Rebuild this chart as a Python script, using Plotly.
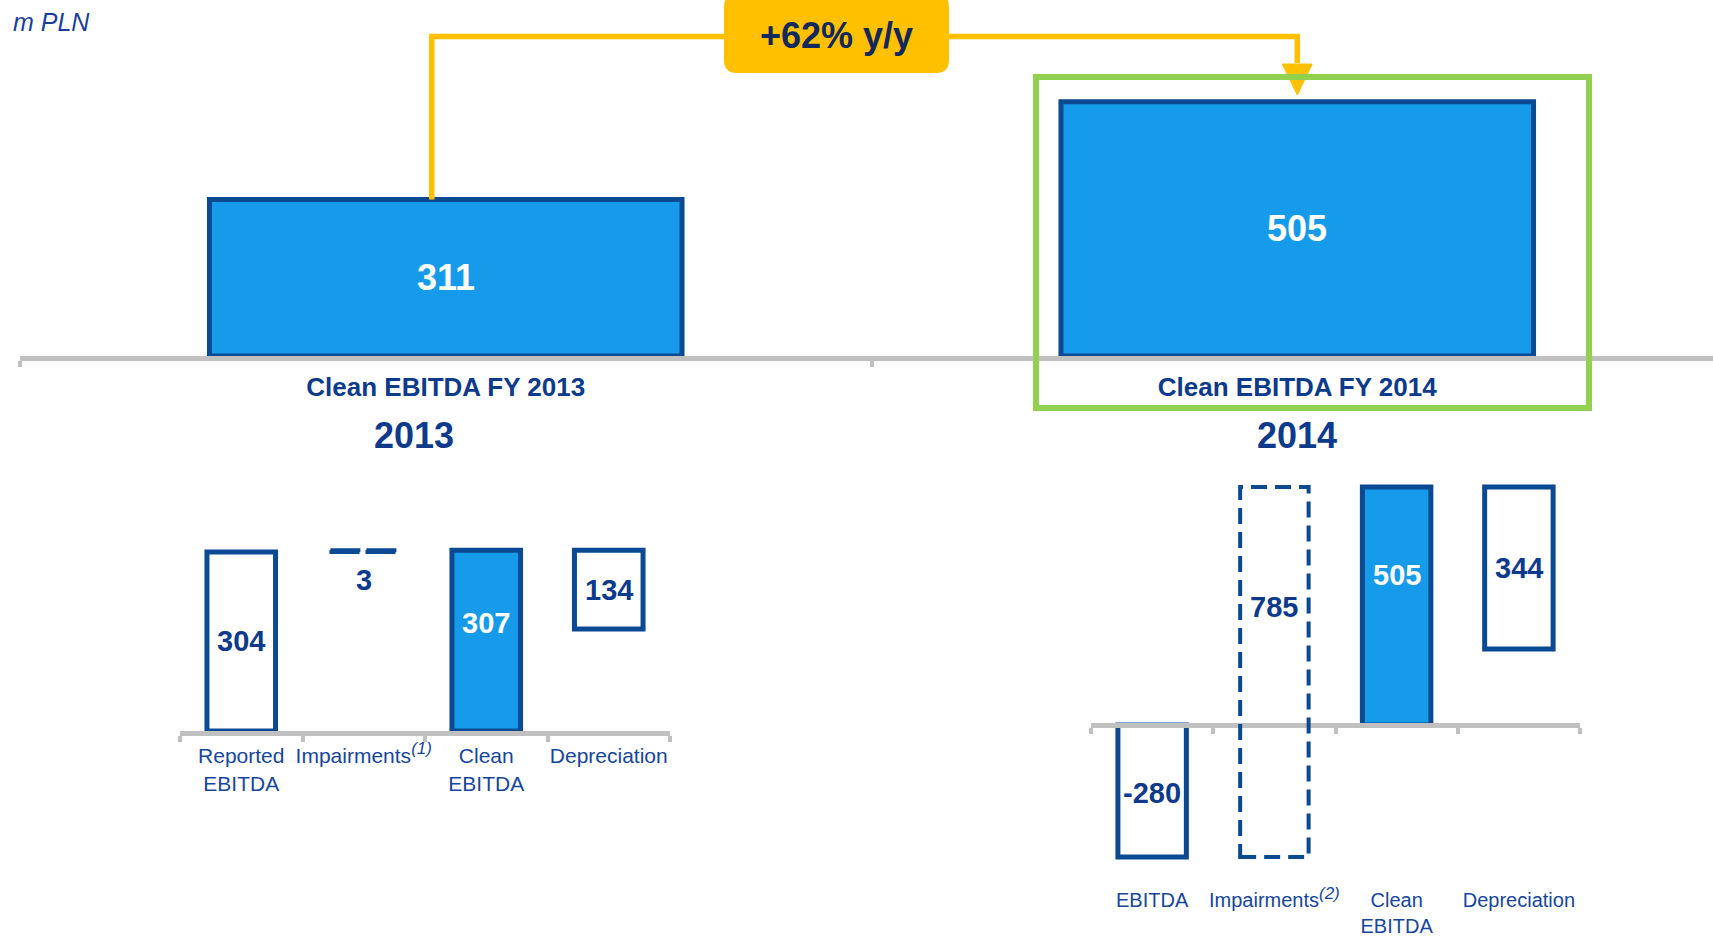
import plotly.graph_objects as go

# ---------------- data (m PLN) ----------------
unit_label = "m PLN"
yoy_text = "+62% y/y"
years = ["2013", "2014"]

top_categories = ["Clean EBITDA FY 2013", "Clean EBITDA FY 2014"]
top_values = [311, 505]

bridge_2013_labels = ["Reported<br>EBITDA",
                      "Impairments<sup><span style='font-size:17px'><i>(1)</i></span></sup>",
                      "Clean<br>EBITDA", "Depreciation"]
bridge_2013_values = [304, 3, 307, 134]

bridge_2014_labels = ["EBITDA",
                      "Impairments<sup><span style='font-size:17px'><i>(2)</i></span></sup>",
                      "Clean<br>EBITDA", "Depreciation"]
bridge_2014_values = [-280, 785, 505, 344]

# ---------------- style ----------------
W, H = 1713, 936
FONT = "Liberation Sans, Arial, sans-serif"
NAVY = "#0D3A8A"
LABEL_BLUE = "#17469A"
OUTLINE = "#0B4A93"
FILL = "#169BEA"
AXIS_GREY = "#C0C0C0"
YELLOW = "#FFC000"
GREEN = "#92D050"
BADGE_TEXT = "#13285C"

# panel geometry (pixels)
TOP_ZERO, TOP_SCALE, TOP_LEFT, TOP_STEP = 356, 0.5036, 20, 851.5
L_ZERO, L_SCALE, L_X0, L_X1, L_TOP = 731, 0.589, 180, 670, 450
R_ZERO, R_SCALE, R_X0, R_X1, R_TOP, R_BOTTOM = 725, 0.4713, 1091, 1580, 440, 890


def fx(p):
    return p / W


def fy(p):
    return 1 - p / H


def bridge_bases(vals):
    # reported EBITDA, impairments stacked on it, clean EBITDA, depreciation hanging from clean
    return [0, vals[0], 0, vals[2] - vals[3]]


b13 = bridge_bases(bridge_2013_values)
b14 = bridge_bases(bridge_2014_values)

fig = go.Figure()

# headline bars
fig.add_trace(go.Bar(
    x=top_categories, y=top_values, width=0.555,
    marker=dict(color=FILL, line=dict(color=OUTLINE, width=5)),
    xaxis="x", yaxis="y", hoverinfo="skip"))

bridge_fill = ["white", "rgba(0,0,0,0)", FILL, "white"]
bridge_line = [5, 0, 5, 5]

fig.add_trace(go.Bar(
    x=bridge_2013_labels, y=bridge_2013_values, base=b13, width=0.56,
    marker=dict(color=bridge_fill, line=dict(color=OUTLINE, width=bridge_line)),
    xaxis="x2", yaxis="y2", hoverinfo="skip"))

fig.add_trace(go.Bar(
    x=bridge_2014_labels, y=bridge_2014_values, base=b14, width=0.56,
    marker=dict(color=bridge_fill, line=dict(color=OUTLINE, width=bridge_line)),
    xaxis="x3", yaxis="y3", hoverinfo="skip"))

shapes = []

# dashed outlines for the impairment steps
for xr, yr, vals, bases, dash in [("x2", "y2", bridge_2013_values, b13, "30px,6px"),
                                  ("x3", "y3", bridge_2014_values, b14, "16px,8px")]:
    shapes.append(dict(type="rect", xref=xr, yref=yr, x0=1 - 0.28, x1=1 + 0.28,
                       y0=bases[1], y1=bases[1] + vals[1],
                       line=dict(color=OUTLINE, width=4, dash=dash),
                       fillcolor="rgba(0,0,0,0)", layer="above"))

# yellow connector from 2013 bar to 2014 bar
conn_y = (TOP_ZERO - 36.5) / TOP_SCALE
arrow_base = (TOP_ZERO - 64) / TOP_SCALE
arrow_tip = (TOP_ZERO - 95) / TOP_SCALE
xa = 0 - 14 / TOP_STEP
hw = 15 / TOP_STEP
shapes.append(dict(type="path", xref="x", yref="y",
                   path=f"M {xa},{top_values[0]} L {xa},{conn_y} L 1,{conn_y} L 1,{arrow_base + 2}",
                   line=dict(color=YELLOW, width=5.5)))
shapes.append(dict(type="path", xref="x", yref="y",
                   path=f"M {1 - hw},{arrow_base} L {1 + hw},{arrow_base} L 1,{arrow_tip} Z",
                   fillcolor=YELLOW, line=dict(color=YELLOW, width=1)))


# rounded badge
def rounded_rect(x0, y0, x1, y1, r):
    pts = [
        f"M {fx(x0 + r)},{fy(y0)}", f"L {fx(x1 - r)},{fy(y0)}",
        f"Q {fx(x1)},{fy(y0)} {fx(x1)},{fy(y0 + r)}", f"L {fx(x1)},{fy(y1 - r)}",
        f"Q {fx(x1)},{fy(y1)} {fx(x1 - r)},{fy(y1)}", f"L {fx(x0 + r)},{fy(y1)}",
        f"Q {fx(x0)},{fy(y1)} {fx(x0)},{fy(y1 - r)}", f"L {fx(x0)},{fy(y0 + r)}",
        f"Q {fx(x0)},{fy(y0)} {fx(x0 + r)},{fy(y0)}", "Z"]
    return " ".join(pts)


shapes.append(dict(type="path", xref="paper", yref="paper",
                   path=rounded_rect(724, -6, 949, 73, 13),
                   fillcolor=YELLOW, line=dict(width=0)))

# green highlight frame around the 2014 headline
shapes.append(dict(type="rect", xref="paper", yref="paper",
                   x0=fx(1036), x1=fx(1589), y0=fy(408), y1=fy(77),
                   line=dict(color=GREEN, width=6), fillcolor="rgba(0,0,0,0)"))

annotations = []

# headline values
for i, v in enumerate(top_values):
    annotations.append(dict(x=i, y=v / 2, xref="x", yref="y", text=f"<b>{v}</b>",
                            showarrow=False, yanchor="middle",
                            font=dict(family=FONT, size=36, color="white")))

# bridge values
shift_13 = [0, -29, 18, 0]
shift_14 = [-2, 65, 31, 0]
for xr, yr, vals, bases, shifts in [("x2", "y2", bridge_2013_values, b13, shift_13),
                                    ("x3", "y3", bridge_2014_values, b14, shift_14)]:
    for i, (v, b, s) in enumerate(zip(vals, bases, shifts)):
        annotations.append(dict(x=i, y=b + v / 2, xref=xr, yref=yr, yshift=s,
                                text=f"<b>{v}</b>", showarrow=False, yanchor="middle",
                                font=dict(family=FONT, size=29,
                                          color="white" if i == 2 else NAVY)))

# year headings
for i, (yr_txt, dx) in enumerate(zip(years, [-32, 0])):
    annotations.append(dict(x=i, y=fy(435), xref="x", yref="paper", xshift=dx,
                            text=f"<b>{yr_txt}</b>", showarrow=False,
                            xanchor="center", yanchor="middle",
                            font=dict(family=FONT, size=36, color=NAVY)))

annotations.append(dict(x=fx(11), y=fy(22), xref="paper", yref="paper",
                        xanchor="left", yanchor="middle",
                        text=f"<i>{unit_label}</i>", showarrow=False,
                        font=dict(family=FONT, size=25, color="#1B3F98")))
annotations.append(dict(x=fx(836.5), y=fy(36), xref="paper", yref="paper",
                        xanchor="center", yanchor="middle",
                        text=f"<b>{yoy_text}</b>", showarrow=False,
                        font=dict(family=FONT, size=36, color=BADGE_TEXT)))

axis_common = dict(type="category", tickson="boundaries", ticks="outside", ticklen=6,
                   tickwidth=4, tickcolor=AXIS_GREY, showline=True, linecolor=AXIS_GREY,
                   linewidth=5, showgrid=False, zeroline=False, fixedrange=True,
                   tickangle=0, automargin=False)
hidden_y = dict(visible=False, fixedrange=True, automargin=False)

fig.update_layout(
    width=W, height=H, autosize=False, margin=dict(l=0, r=0, t=0, b=0, pad=0),
    paper_bgcolor="white", plot_bgcolor="rgba(0,0,0,0)", showlegend=False,
    barmode="overlay",
    xaxis=dict(**axis_common, domain=[fx(TOP_LEFT), 1], anchor="y",
               range=[-0.5, -0.5 + (W - TOP_LEFT) / TOP_STEP], ticklabelstandoff=4,
               tickfont=dict(family=FONT, size=26, color=NAVY, weight="bold")),
    yaxis=dict(**hidden_y, domain=[fy(TOP_ZERO), 1], range=[0, TOP_ZERO / TOP_SCALE], anchor="x"),
    xaxis2=dict(**axis_common, domain=[fx(L_X0), fx(L_X1)], anchor="y2", range=[-0.5, 3.5],
                ticklabelstandoff=2,
                tickfont=dict(family=FONT, size=21, color=LABEL_BLUE)),
    yaxis2=dict(**hidden_y, domain=[fy(L_ZERO), fy(L_TOP)],
                range=[0, (L_ZERO - L_TOP) / L_SCALE], anchor="x2"),
    xaxis3=dict(**axis_common, domain=[fx(R_X0), fx(R_X1)], anchor="free",
                position=fy(R_ZERO), range=[-0.5, 3.5], ticklabelstandoff=155,
                tickfont=dict(family=FONT, size=20, color=LABEL_BLUE)),
    yaxis3=dict(**hidden_y, domain=[fy(R_BOTTOM), fy(R_TOP)],
                range=[-(R_BOTTOM - R_ZERO) / R_SCALE, (R_ZERO - R_TOP) / R_SCALE],
                anchor="x3"),
    shapes=shapes, annotations=annotations,
)

fig.write_html("out.html", config={"displayModeBar": False})
